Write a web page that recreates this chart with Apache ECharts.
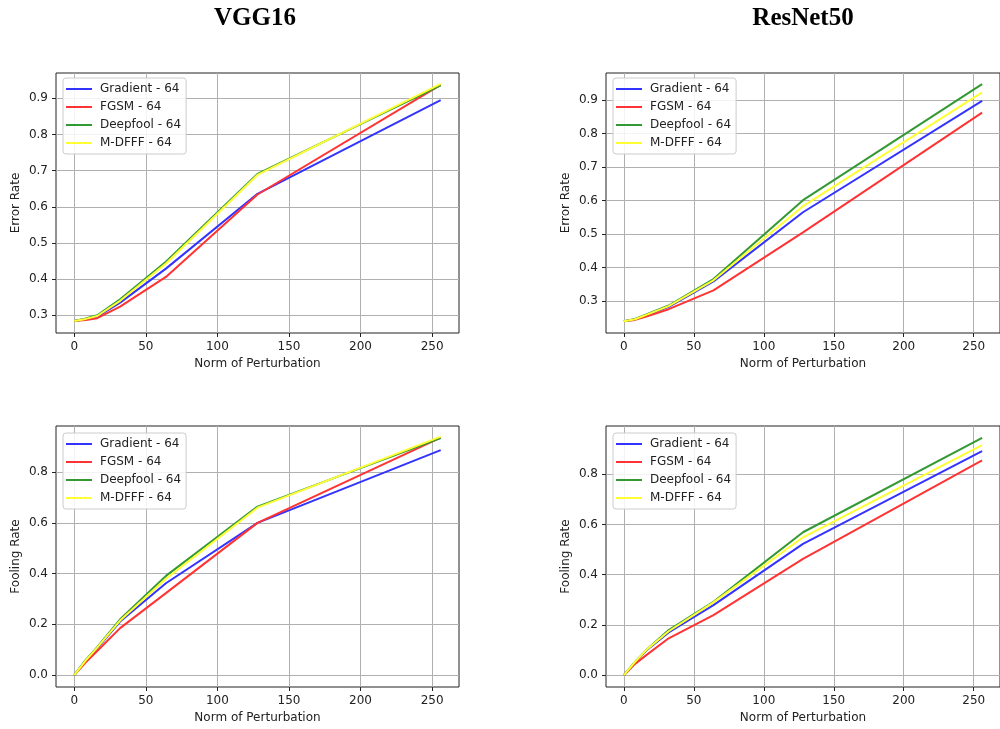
<!DOCTYPE html>
<html>
<head>
<meta charset="utf-8">
<script src="https://cdn.jsdelivr.net/npm/echarts@6/dist/echarts.min.js"></script>
<style>
  html, body { margin: 0; padding: 0; background: #fff; }
  #main { width: 1000px; height: 729px; }
</style>
</head>
<body>
<div id="main"></div>
<script>
// perturbation norms
var norms = [0, 8, 16, 32, 64, 128, 256];
var names = ['Gradient - 64', 'FGSM - 64', 'Deepfool - 64', 'M-DFFF - 64'];
var colors = ['#3333ff', '#ff3333', '#339933', '#ffff33'];

// VGG16 error rate
var vggErrGradient = [0.284, 0.290, 0.296, 0.335, 0.429, 0.636, 0.895];
var vggErrFgsm     = [0.284, 0.287, 0.292, 0.324, 0.406, 0.634, 0.937];
var vggErrDeepfool = [0.284, 0.291, 0.300, 0.344, 0.448, 0.691, 0.936];
var vggErrMdfff    = [0.284, 0.290, 0.298, 0.340, 0.443, 0.688, 0.940];

// ResNet50 error rate
var resErrGradient = [0.240, 0.246, 0.258, 0.283, 0.359, 0.565, 0.897];
var resErrFgsm     = [0.240, 0.244, 0.254, 0.276, 0.332, 0.505, 0.862];
var resErrDeepfool = [0.240, 0.247, 0.260, 0.287, 0.366, 0.601, 0.947];
var resErrMdfff    = [0.240, 0.246, 0.259, 0.285, 0.362, 0.583, 0.922];

// VGG16 fooling rate
var vggFoolGradient = [0, 0.058, 0.105, 0.211, 0.362, 0.600, 0.887];
var vggFoolFgsm     = [0, 0.050, 0.095, 0.185, 0.323, 0.600, 0.936];
var vggFoolDeepfool = [0, 0.060, 0.110, 0.220, 0.391, 0.664, 0.934];
var vggFoolMdfff    = [0, 0.058, 0.108, 0.215, 0.380, 0.660, 0.940];

// ResNet50 fooling rate
var resFoolGradient = [0, 0.052, 0.098, 0.170, 0.279, 0.523, 0.892];
var resFoolFgsm     = [0, 0.045, 0.080, 0.147, 0.239, 0.463, 0.855];
var resFoolDeepfool = [0, 0.053, 0.100, 0.180, 0.292, 0.569, 0.945];
var resFoolMdfff    = [0, 0.053, 0.100, 0.175, 0.290, 0.549, 0.916];

var xTicks = [0, 50, 100, 150, 200, 250];
var errTicks = [0.3, 0.4, 0.5, 0.6, 0.7, 0.8, 0.9];
var foolTicks = [0, 0.2, 0.4, 0.6, 0.8];

var panels = [
  { grid: { left: 56, top: 73, width: 403, height: 260 }, legend: [63, 78],
    yName: 'Error Rate', yMin: 0.251, yMax: 0.970, yTicks: errTicks,
    data: [vggErrGradient, vggErrFgsm, vggErrDeepfool, vggErrMdfff] },
  { grid: { left: 606, top: 73, width: 402, height: 260 }, legend: [613, 78],
    yName: 'Error Rate', yMin: 0.205, yMax: 0.980, yTicks: errTicks,
    data: [resErrGradient, resErrFgsm, resErrDeepfool, resErrMdfff] },
  { grid: { left: 56, top: 426, width: 403, height: 261 }, legend: [63, 433],
    yName: 'Fooling Rate', yMin: -0.047, yMax: 0.982, yTicks: foolTicks,
    data: [vggFoolGradient, vggFoolFgsm, vggFoolDeepfool, vggFoolMdfff] },
  { grid: { left: 606, top: 426, width: 402, height: 261 }, legend: [613, 433],
    yName: 'Fooling Rate', yMin: -0.047, yMax: 0.992, yTicks: foolTicks,
    data: [resFoolGradient, resFoolFgsm, resFoolDeepfool, resFoolMdfff] }
];

var font = 'DejaVu Sans';
var txt = '#222';
var grids = [], xAxes = [], yAxes = [], legends = [], series = [];

panels.forEach(function (p, i) {
  grids.push(Object.assign({ show: true, borderColor: '#222', borderWidth: 1, backgroundColor: '#fff' }, p.grid));
  xAxes.push({
    type: 'value', gridIndex: i, min: -12.8, max: 268.8,
    name: 'Norm of Perturbation', nameLocation: 'middle', nameGap: 25,
    nameTextStyle: { fontFamily: font, fontSize: 12, color: txt },
    axisLine: { show: false, onZero: false },
    axisTick: { show: true, length: 4, customValues: xTicks, lineStyle: { color: '#222' } },
    axisLabel: { customValues: xTicks, margin: 8, fontFamily: font, fontSize: 12, color: txt },
    splitLine: { show: true, lineStyle: { color: '#b0b0b0', width: 1 } }
  });
  yAxes.push({
    type: 'value', gridIndex: i, min: p.yMin, max: p.yMax,
    name: p.yName, nameLocation: 'middle', nameGap: 34,
    nameTextStyle: { fontFamily: font, fontSize: 12, color: txt },
    axisLine: { show: false, onZero: false },
    axisTick: { show: true, length: 4, customValues: p.yTicks, lineStyle: { color: '#222' } },
    axisLabel: { customValues: p.yTicks, margin: 8, fontFamily: font, fontSize: 12, color: txt,
      formatter: function (v) { return v.toFixed(1); } },
    splitLine: { show: true, lineStyle: { color: '#b0b0b0', width: 1 } }
  });
  legends.push({
    orient: 'vertical', left: p.legend[0], top: p.legend[1],
    data: names, icon: 'path://M0,0L26,0L26,2L0,2Z',
    itemWidth: 26, itemHeight: 14, itemGap: 6,
    padding: [5, 5, 5, 3], backgroundColor: 'rgba(255,255,255,0.85)',
    borderColor: '#cccccc', borderWidth: 1, borderRadius: 3,
    selectedMode: false,
    textStyle: { fontFamily: font, fontSize: 12, color: txt, padding: [0, 0, 0, 3] }
  });
  p.data.forEach(function (vals, k) {
    series.push({
      name: names[k], type: 'line', xAxisIndex: i, yAxisIndex: i,
      data: norms.map(function (x, j) { return [x, vals[j]]; }),
      symbol: 'none', color: colors[k], animation: false,
      lineStyle: { color: colors[k], width: 2 }, z: 2 + k
    });
  });
});

var chart = echarts.init(document.getElementById('main'));
chart.setOption({
  backgroundColor: '#fff',
  animation: false,
  title: [
    { text: 'VGG16', left: 250, top: 1, textAlign: 'center',
      textStyle: { fontFamily: 'Liberation Serif', fontWeight: 'bold', fontSize: 25, color: '#000' } },
    { text: 'ResNet50', left: 798, top: 1, textAlign: 'center',
      textStyle: { fontFamily: 'Liberation Serif', fontWeight: 'bold', fontSize: 25, color: '#000' } }
  ],
  grid: grids,
  xAxis: xAxes,
  yAxis: yAxes,
  legend: legends,
  series: series
});
</script>
</body>
</html>
